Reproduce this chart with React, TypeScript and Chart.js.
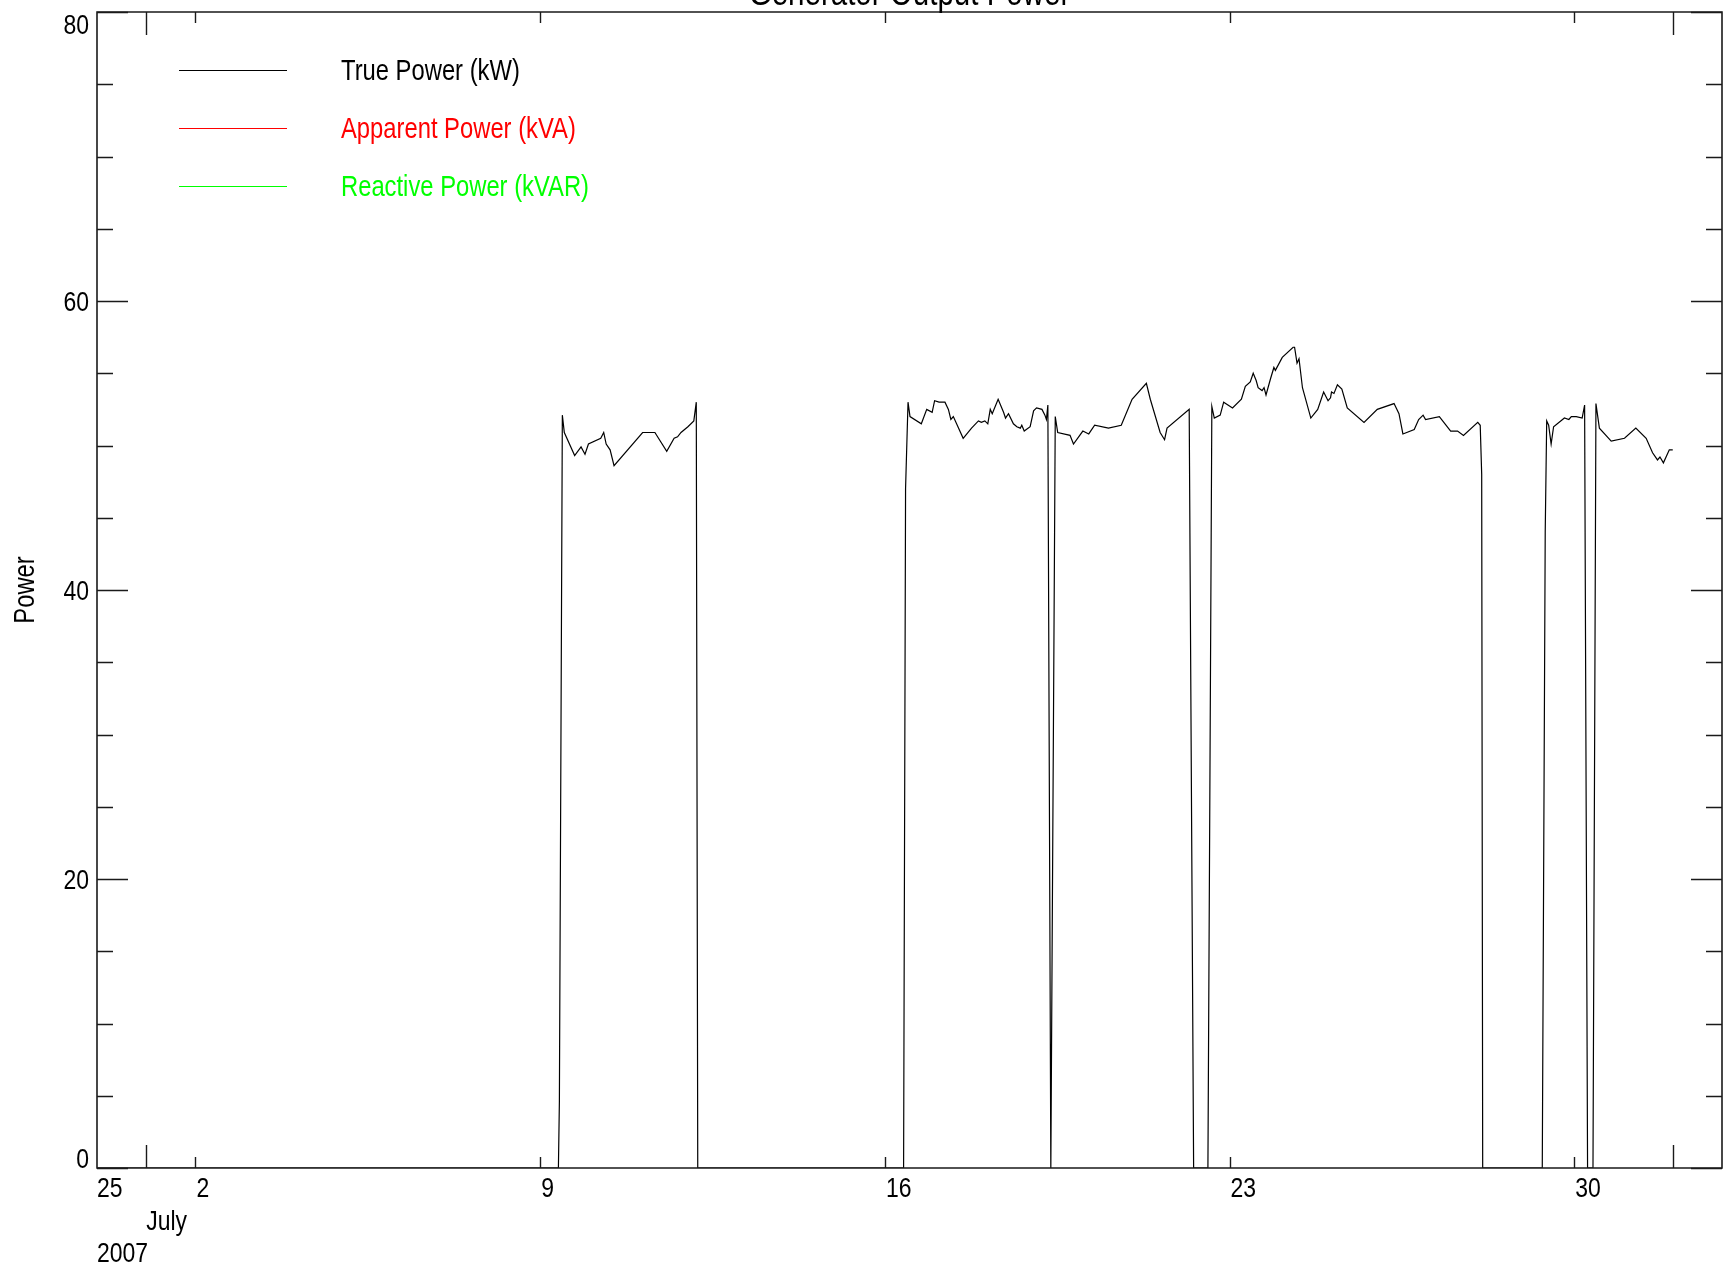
import React, { useEffect, useRef } from "react";
import { Chart, registerables } from "chart.js";

Chart.register(...registerables);

// Time axis: days since 2007-06-30 00:00 (so July d = d, Aug 1 = 32)
const xMin = 0;
const xMax = 33;
const yMin = 0;
const yMax = 80;

const trueTimes: number[] = [
  0, 9.37, 9.39, 9.45, 9.49, 9.7, 9.83, 9.91, 9.98, 10.23, 10.29, 10.34, 10.42, 10.5, 11.08, 11.33, 11.57,
  11.72, 11.79, 11.86, 12.0, 12.12, 12.17, 12.2,
  16.38, 16.42, 16.47, 16.51, 16.74, 16.85, 16.96, 17.01, 17.1, 17.22, 17.29, 17.34, 17.39, 17.59, 17.76,
  17.9, 17.96, 18.03, 18.09, 18.14, 18.18, 18.3, 18.41, 18.45, 18.51, 18.61, 18.68, 18.75, 18.78, 18.83,
  18.95, 19.02, 19.08, 19.19, 19.25, 19.28, 19.31, 19.37, 19.46,
  19.51, 19.76, 19.83, 20.02, 20.14, 20.26, 20.54, 20.8, 21.02, 21.31, 21.39, 21.59, 21.68, 21.73, 22.18,
  22.27, 22.56,
  22.64, 22.69, 22.81, 22.88, 23.06, 23.24, 23.32, 23.42, 23.48, 23.54, 23.58, 23.66, 23.7, 23.74, 23.83,
  23.9, 23.93, 24.07, 24.29, 24.32, 24.37, 24.41, 24.48, 24.65, 24.79, 24.91, 25.0, 25.05, 25.07, 25.12,
  25.19, 25.28, 25.39, 25.73, 26.0, 26.34, 26.44, 26.52, 26.75, 26.84, 26.93, 26.98, 27.26, 27.49, 27.63,
  27.75, 28.04, 28.09, 28.12, 28.14,
  29.35, 29.41, 29.44, 29.48, 29.53, 29.58, 29.8, 29.89, 29.94, 30.04, 30.16, 30.21, 30.27,
  30.38, 30.44, 30.51, 30.75, 31.02, 31.25, 31.46, 31.59, 31.69, 31.74, 31.81, 31.93, 32.0,
];

const truePower: number[] = [
  0, 0, 4.6, 52.1, 50.9, 49.3, 49.9, 49.4, 50.1, 50.5, 50.9, 50.1, 49.7, 48.6, 50.9, 50.9, 49.6,
  50.5, 50.6, 50.9, 51.3, 51.7, 53.0, 0,
  0, 47.0, 53.0, 52.0, 51.5, 52.5, 52.3, 53.1, 53.0, 53.0, 52.5, 51.8, 52.0, 50.5, 51.2,
  51.7, 51.6, 51.7, 51.5, 52.5, 52.2, 53.2, 52.3, 51.9, 52.2, 51.5, 51.3, 51.2, 51.4, 51.0,
  51.3, 52.4, 52.6, 52.5, 52.1, 51.8, 52.8, 0, 52.0,
  50.9, 50.7, 50.1, 51.0, 50.8, 51.4, 51.2, 51.4, 53.2, 54.3, 53.2, 50.9, 50.4, 51.2, 52.5,
  0, 0,
  52.7, 51.9, 52.1, 53.0, 52.6, 53.2, 54.1, 54.4, 55.0, 54.5, 54.0, 53.8, 54.0, 53.5, 54.6,
  55.4, 55.2, 56.1, 56.8, 56.8, 55.7, 56.0, 54.0, 51.9, 52.5, 53.7, 53.1, 53.3, 53.7, 53.6,
  54.2, 53.9, 52.6, 51.6, 52.5, 52.9, 52.2, 50.8, 51.1, 51.8, 52.1, 51.8, 52.0, 51.0, 51.0,
  50.7, 51.6, 51.4, 48.0, 0,
  0, 44.0, 51.7, 51.4, 50.1, 51.3, 51.9, 51.8, 52.0, 52.0, 51.9, 52.8, 0,
  0, 52.9, 51.2, 50.3, 50.5, 51.2, 50.5, 49.5, 49.0, 49.2, 48.8, 49.7, 49.7,
];

// Not visible in the picture (no data drawn)
const apparentTimes: number[] = [];
const apparentPower: number[] = [];
const reactiveTimes: number[] = [];
const reactivePower: number[] = [];

const seriesLabels = ["True Power (kW)", "Apparent Power (kVA)", "Reactive Power (kVAR)"];
const seriesColors = ["#000000", "#ff0000", "#00ff00"];

const yTickValues = [0, 5, 10, 15, 20, 25, 30, 35, 40, 45, 50, 55, 60, 65, 70, 75, 80];
const yLabelValues = [0, 20, 40, 60, 80];
const weekTicks = [2, 9, 16, 23, 30];
const weekLabels = ["2", "9", "16", "23", "30"];
const monthTicks = [1, 32];
const startLabel = "25";
const monthLabel = "July";
const yearLabel = "2007";

const titleText = "Generator Output Power";
const yTitleText = "Power";

const FONT = '"Liberation Sans", Arial, sans-serif';
const NARROW = 0.82;

const toPoints = (xs: number[], ys: number[]) => xs.map((x, i) => ({ x, y: ys[i] }));

// narrow text: Liberation Sans squeezed horizontally (Liberation Sans Narrow metrics)
function narrowText(
  ctx: CanvasRenderingContext2D,
  text: string,
  x: number,
  y: number,
  size: number,
  align: CanvasTextAlign,
  baseline: CanvasTextBaseline,
  color: string,
  rotate = 0
) {
  ctx.save();
  ctx.translate(x, y);
  if (rotate) ctx.rotate(rotate);
  ctx.scale(NARROW, 1);
  ctx.font = `${size}px ${FONT}`;
  ctx.textAlign = align;
  ctx.textBaseline = baseline;
  ctx.fillStyle = color;
  ctx.fillText(text, 0, 0);
  ctx.restore();
}

const decorPlugin = {
  id: "idlDecor",
  afterDraw(chart: any) {
    const ctx: CanvasRenderingContext2D = chart.ctx;
    const area = chart.chartArea;
    const xs = chart.scales.x;
    const ys = chart.scales.y;
    const L = area.left;
    const R = area.right;
    const T = area.top;
    const B = area.bottom;

    ctx.save();
    ctx.strokeStyle = "#1a1a1a";
    ctx.lineWidth = 1.6;
    ctx.beginPath();
    ctx.rect(L, T, R - L, B - T);
    ctx.stroke();

    // y ticks (inward, both sides)
    ctx.lineWidth = 1.4;
    ctx.beginPath();
    yTickValues.forEach((v) => {
      const py = Math.round(ys.getPixelForValue(v)) + 0.5;
      const len = v % 20 === 0 ? 31 : 16;
      ctx.moveTo(L, py);
      ctx.lineTo(L + len, py);
      ctx.moveTo(R, py);
      ctx.lineTo(R - len, py);
    });
    // x ticks (inward, top and bottom)
    weekTicks.forEach((d) => {
      const px = Math.round(xs.getPixelForValue(d)) + 0.5;
      ctx.moveTo(px, B);
      ctx.lineTo(px, B - 11);
      ctx.moveTo(px, T);
      ctx.lineTo(px, T + 11);
    });
    monthTicks.forEach((d) => {
      const px = Math.round(xs.getPixelForValue(d)) + 0.5;
      ctx.moveTo(px, B);
      ctx.lineTo(px, B - 23);
      ctx.moveTo(px, T);
      ctx.lineTo(px, T + 23);
    });
    ctx.stroke();

    // y tick labels
    yLabelValues.forEach((v) => {
      const py = ys.getPixelForValue(v);
      let base = py + 10;
      if (v === yMax) base = T + 22;
      if (v === yMin) base = B;
      narrowText(ctx, String(v), L - 8, base, 28, "right", "alphabetic", "#000");
    });

    // x tick labels (left-aligned at tick)
    narrowText(ctx, startLabel, xs.getPixelForValue(xMin), B + 29, 28, "left", "alphabetic", "#000");
    weekTicks.forEach((d, i) => {
      narrowText(ctx, weekLabels[i], xs.getPixelForValue(d) + 1, B + 29, 28, "left", "alphabetic", "#000");
    });
    narrowText(ctx, monthLabel, xs.getPixelForValue(monthTicks[0]), B + 62, 28, "left", "alphabetic", "#000");
    narrowText(ctx, yearLabel, xs.getPixelForValue(xMin), B + 94, 28, "left", "alphabetic", "#000");

    // y title
    narrowText(ctx, yTitleText, 26, (T + B) / 2, 29, "center", "middle", "#000", -Math.PI / 2);

    // title (clipped at top of the page)
    narrowText(ctx, titleText, (L + R) / 2, 5, 36, "center", "alphabetic", "#000");

    // legend inside plot
    chart.data.datasets.forEach((ds: any, i: number) => {
      const y = Math.round(70 + i * 58) + 0.5;
      ctx.strokeStyle = ds.borderColor;
      ctx.lineWidth = 1.2;
      ctx.beginPath();
      ctx.moveTo(179, y);
      ctx.lineTo(287, y);
      ctx.stroke();
      narrowText(ctx, ds.label, 341, y + 1, 29, "left", "middle", ds.borderColor);
    });
    ctx.restore();
  },
};

export default function App() {
  const ref = useRef<HTMLCanvasElement | null>(null);

  useEffect(() => {
    if (!ref.current) return;
    const chart = new Chart(ref.current, {
      type: "line",
      data: {
        datasets: [
          {
            label: seriesLabels[0],
            data: toPoints(trueTimes, truePower),
            borderColor: seriesColors[0],
            backgroundColor: seriesColors[0],
            borderWidth: 1.2,
            pointRadius: 0,
            tension: 0,
          },
          {
            label: seriesLabels[1],
            data: toPoints(apparentTimes, apparentPower),
            borderColor: seriesColors[1],
            backgroundColor: seriesColors[1],
            borderWidth: 1.2,
            pointRadius: 0,
          },
          {
            label: seriesLabels[2],
            data: toPoints(reactiveTimes, reactivePower),
            borderColor: seriesColors[2],
            backgroundColor: seriesColors[2],
            borderWidth: 1.2,
            pointRadius: 0,
          },
        ],
      },
      options: {
        animation: false,
        responsive: false,
        devicePixelRatio: 1,
        layout: { padding: { left: 97, right: 4, top: 12, bottom: 104 } },
        plugins: {
          legend: { display: false },
          title: { display: false },
          tooltip: { enabled: false },
        },
        scales: {
          x: { type: "linear", min: xMin, max: xMax, display: false },
          y: { type: "linear", min: yMin, max: yMax, display: false },
        },
      },
      plugins: [decorPlugin],
    });
    return () => chart.destroy();
  }, []);

  return (
    <div style={{ position: "fixed", left: 0, top: 0, width: 1726, height: 1272, background: "#fff" }}>
      <canvas ref={ref} width={1726} height={1272} style={{ width: "1726px", height: "1272px", display: "block" }} />
    </div>
  );
}
